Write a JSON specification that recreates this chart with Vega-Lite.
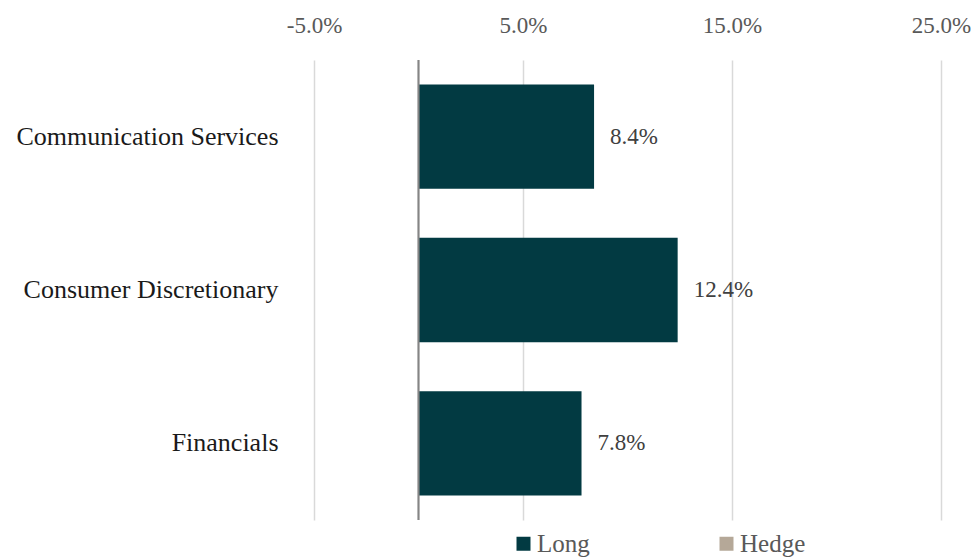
{
  "$schema": "https://vega.github.io/schema/vega-lite/v6.json",
  "width": 627,
  "height": 460,
  "autosize": {"type": "none"},
  "padding": {"left": 314, "top": 60, "right": 32, "bottom": 39},
  "background": "white",
  "config": {"view": {"stroke": null}, "font": "Liberation Serif"},
  "data": {
    "values": [
      {"sector": "Communication Services", "series": "Long", "value": 0.084},
      {"sector": "Consumer Discretionary", "series": "Long", "value": 0.124},
      {"sector": "Financials", "series": "Long", "value": 0.078}
    ]
  },
  "layer": [
    {
      "mark": {"type": "bar"},
      "encoding": {
        "y": {
          "field": "sector", "type": "nominal", "sort": null,
          "scale": {"paddingInner": 0.32, "paddingOuter": 0.16},
          "axis": {"title": null, "domain": false, "ticks": false, "labelFontSize": 26, "labelColor": "#1a1a1a", "labelPadding": 36, "labelLimit": 400, "labelFont": "Liberation Serif"}
        },
        "x": {
          "field": "value", "type": "quantitative",
          "scale": {"domain": [-0.05, 0.25], "nice": false, "zero": false},
          "axis": {"orient": "top", "title": null, "values": [-0.05, 0.05, 0.15, 0.25], "format": ".1%", "labelExpr": "replace(datum.label, '\u2212', '-')", "labelFlush": false, "domain": false, "ticks": false, "grid": true, "gridColor": "#d9d9d9", "gridWidth": 1.5, "labelFontSize": 23, "labelColor": "#595959", "labelPadding": 23, "labelFont": "Liberation Serif"}
        },
        "color": {
          "field": "series", "type": "nominal",
          "scale": {"domain": ["Long", "Hedge"], "range": ["#023a42", "#b5a898"]},
          "legend": {"title": null, "orient": "none", "legendX": 197, "legendY": 471, "direction": "horizontal", "symbolType": "square", "symbolSize": 196, "symbolStrokeWidth": 0, "symbolOpacity": 1, "labelFontSize": 25, "labelColor": "#595959", "labelOffset": 1, "columnPadding": 124, "labelFont": "Liberation Serif"}
        }
      }
    },
    {
      "mark": {"type": "rule", "color": "#858585", "strokeWidth": 1.5},
      "encoding": {"x": {"datum": 0}}
    },
    {
      "mark": {"type": "text", "align": "left", "baseline": "middle", "dx": 16, "fontSize": 23, "color": "#404040", "font": "Liberation Serif"},
      "encoding": {
        "y": {"field": "sector", "type": "nominal", "sort": null},
        "x": {"field": "value", "type": "quantitative"},
        "text": {"field": "value", "type": "quantitative", "format": ".1%"}
      }
    }
  ]
}
